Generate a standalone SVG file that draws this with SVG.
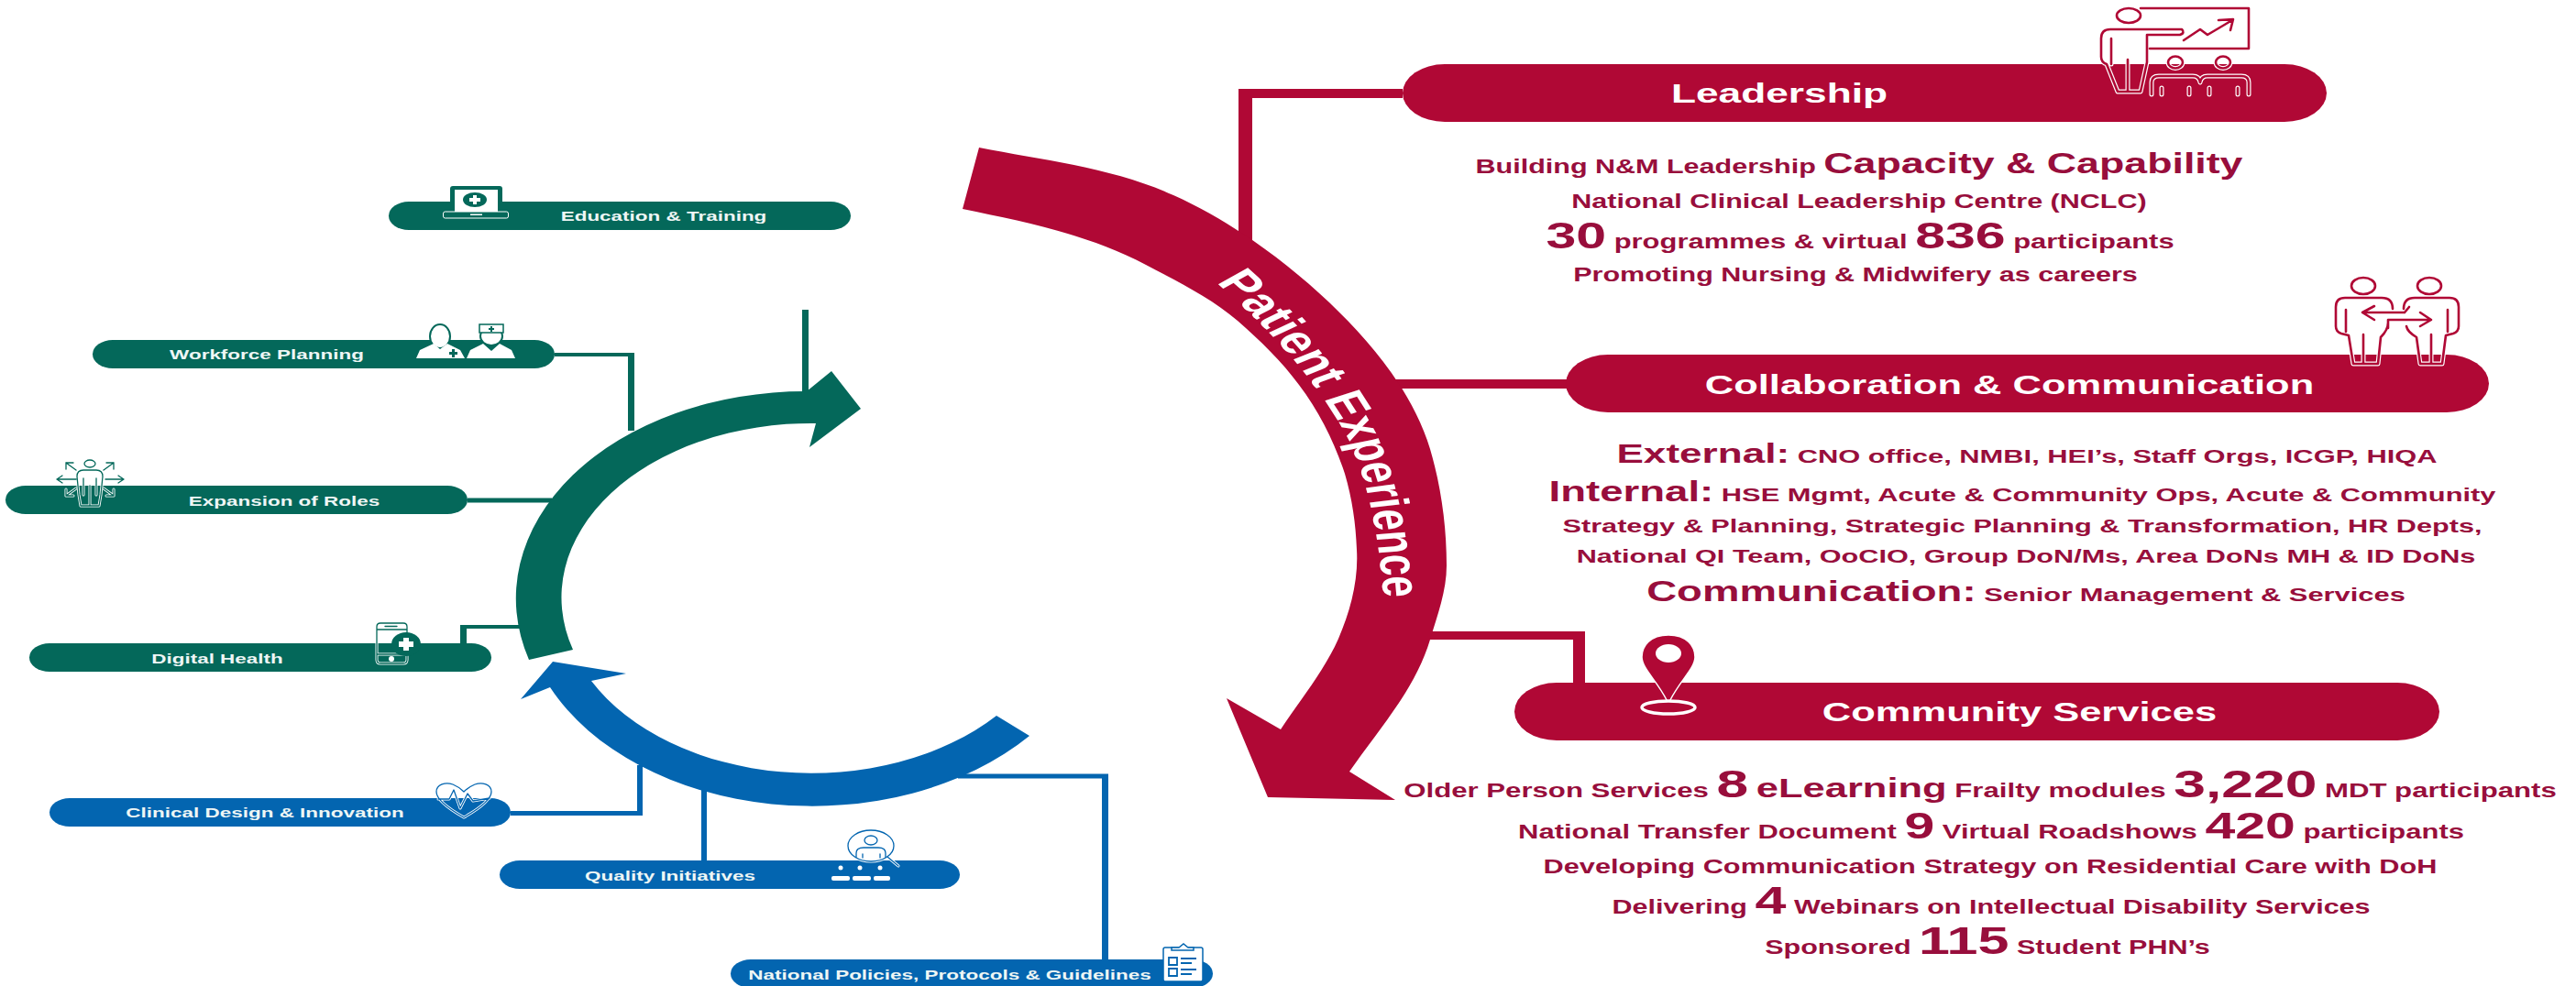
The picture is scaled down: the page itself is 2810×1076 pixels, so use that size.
<svg xmlns="http://www.w3.org/2000/svg" xmlns:xlink="http://www.w3.org/1999/xlink" width="2810" height="1076" viewBox="0 0 2810 1076">
<style>
text{font-family:"Liberation Sans",Arial,sans-serif;font-weight:700;text-anchor:middle}
.w{fill:#fff}
.rt{fill:#980E3C;font-size:21.5px}
.pr{font-size:30px}
.pl{font-size:15.5px;fill:#eef6f5}
.b21{font-size:21px}.b30{font-size:30px}.b31{font-size:31px}.b315{font-size:31.5px}.b41{font-size:41px}.b43{font-size:43px}
.r{fill:#B00835}.g{fill:#04685A}.b{fill:#0365B0}
.halo{fill:none;stroke:#fff;stroke-width:5;stroke-linecap:round;stroke-linejoin:round}
.halot{fill:none;stroke:#fff;stroke-width:3;stroke-linecap:round;stroke-linejoin:round}
.cr{fill:none;stroke:#B00835;stroke-width:2.600;stroke-linecap:round;stroke-linejoin:round}
.cg{fill:none;stroke:#04685A;stroke-width:1.300;stroke-linecap:round;stroke-linejoin:round}
.cb{fill:none;stroke:#0365B0;stroke-width:1.300;stroke-linecap:round;stroke-linejoin:round}
</style>
<defs>
<path id="icoLead" d="M2380,32 L2302,32 Q2292,32 2292,42 L2292,62 Q2292,68 2298,70 L2310,100 L2335,100 L2342,68 L2342,38 L2378,38 Q2384,36 2380,32 Z M2303,42 L2303,70 M2321,65 L2321,100 M2335,9 L2453,9 L2453,53 L2345,53 M2382,44 L2400,32 L2408,38 L2435,22 M2420,22 L2436,21 L2433,33 M2309,17 a13,8 0 1 0 26,0 a13,8 0 1 0 -26,0 M2365,68 a8,6.500 0 1 0 16,0 a8,6.500 0 1 0 -16,0 M2417,68 a8,6.500 0 1 0 16,0 a8,6.500 0 1 0 -16,0 M2347,103 L2347,90 Q2347,83 2355,83 L2392,83 Q2399,83 2400,90 Q2401,83 2408,83 L2445,83 Q2453,83 2453,90 L2453,103 M2358,96 V103 M2388,96 V103 M2410,96 V103 M2441,96 V103"/>
<path id="icoCollab" d="M2565,312 a13,9 0 1 0 26,0 a13,9 0 1 0 -26,0 M2637,312 a13,9 0 1 0 26,0 a13,9 0 1 0 -26,0 M2610,337 Q2610,325 2598,325 L2558,325 Q2548,325 2548,335 L2548,356 Q2548,362 2554,364 L2562,366 L2567,397 L2594,397 L2597,368 Q2605,360 2605,352 M2559,338 V362 M2578,365 V397 M2622,337 Q2622,325 2634,325 L2672,325 Q2682,325 2682,335 L2682,356 Q2682,362 2676,364 L2668,366 L2664,397 L2640,397 L2636,368 Q2626,362 2625,356 M2670,338 V362 M2652,365 V397 M2623,341 L2577,341 M2590,334 L2577,341 L2590,349 M2605,358 L2605,349 L2652,349 M2640,341 L2652,349 L2640,356 M2623,341 L2628,335"/>
<path id="icoRoles" d="M92,506 a6,4 0 1 0 12,0 a6,4 0 1 0 -12,0 M91,513 L105,513 Q112,513 112,520 L110,540 L108,552 L88,552 L86,540 L84,520 Q84,513 91,513 Z M98,530 V552 M91,522 V540 M105,522 V540 M83,523 H62 M68,519 L62,523 L68,527 M115,523 H135 M129,519 L135,523 L129,527 M83,513 L72,505 M72,512 L72,505 L80,505 M113,513 L124,505 M116,505 L124,505 L124,512 M83,533 L72,541 M72,534 L72,541 L80,541 M113,533 L124,541 M116,541 L124,541 L124,534"/>
<path id="icoPhone" d="M415,680 H440 Q444,680 444,684 V720 Q444,724 440,724 H415 Q411,724 411,720 V684 Q411,680 415,680 Z M411,687 H444 M411,714 H444 M420,683.500 H433"/>
<path id="icoHeart" d="M506,892 C492,884 476,873 476,864 C476,856 486,853 494,856 C499,858 503,861 506,864 C509,861 513,858 518,856 C526,853 536,856 536,864 C536,873 520,884 506,892 Z M478,872 L490,872 L495,862 L502,882 L510,866 L516,874 L534,871"/>
<path id="icoMag" d="M925,923 a25,17 0 1 0 50,0 a25,17 0 1 0 -50,0 M968,935 L980,945 M943,917 a7,5 0 1 0 14,0 a7,5 0 1 0 -14,0 M934,936 V931 Q934,925 942,925 H958 Q966,925 966,931 V936 M941,932 V936 M960,932 V936"/>
</defs>

<g id="connectors">
<path class="g" d="M605,385 H692 V470 H685 V389 H605 Z"/>
<rect class="g" x="875" y="338" width="7" height="92"/>
<rect class="g" x="510" y="543.500" width="92" height="5"/>
<path class="g" d="M502,703 V682 H570 V686 H509 V703 Z"/>
<path class="b" d="M557,885 H695 V835 H701 V890 H557 Z"/>
<rect class="b" x="765" y="858" width="6" height="82"/>
<path class="b" d="M1045,844.500 H1209 V1048 H1202 V849.500 H1045 Z"/>
<path class="r" d="M1530,97 H1351 V262 H1366 V107 H1530 Z"/>
<rect class="r" x="1515" y="414" width="195" height="10"/>
<path class="r" d="M1560,689 H1729 V746 H1716 V698 H1560 Z"/>
</g>

<g id="arc-patient-experience">
<path class="r" d="M1068,161 C1139,175 1214,183 1280,213 C1342,241 1400,283 1450,330 C1497,375 1541,428 1560,490 C1572,531 1578,574 1578,617 C1578,645 1568,671 1560,698 C1544,752 1504,796 1472,842 L1522,873 L1383,870 L1338,762 L1397,796 C1418,764 1444,733 1460,697 C1473,667 1482,633 1480,600 C1479,572 1475,544 1467,517 C1456,483 1439,449 1417,420 C1398,394 1374,371 1350,350 C1321,325 1284,307 1250,289 C1188,256 1118,242 1050,228 Z"/>
<g transform="scale(1.42,1)">
<path id="pxPath" d="M934,308 Q1005,395 1037,483 Q1060,555 1064,680" fill="none"/>
<text class="w" style="font-size:42px;text-anchor:start"><textPath href="#pxPath" xlink:href="#pxPath">Patient Experience</textPath></text>
</g>
</g>
<path id="arc-green" class="g" d="M577,720 A316,226 0 0 1 880,427 L907,405 L939,446 L883,488 L890,462 A272,190 0 0 0 625,709 Z"/>
<path id="arc-blue" class="b" d="M1087,781 L1123,803 A316,226 0 0 1 600,750 L568,763 L603,722 L683,735 L645,743 A272,190 0 0 0 1087,781 Z"/>

<g id="node-education">
<rect class="g" x="424" y="220" width="504" height="31" rx="22" ry="15.500"/>
<rect class="g" x="491" y="203" width="57" height="32" rx="3"/>
<rect class="w" x="496" y="207" width="47" height="24"/>
<ellipse class="g" cx="518" cy="218" rx="13" ry="8"/>
<path class="w" d="M516,213 h4 v3 h4 v4 h-4 v3 h-4 v-3 h-4 v-4 h4 z"/>
<rect x="483.500" y="231" width="71" height="7" rx="2" fill="#04685A" stroke="#fff" stroke-width="1"/>
<rect class="w" x="513" y="233.500" width="13" height="1.500"/>
<text class="pl" transform="translate(724,241) scale(1.45,1)">Education &amp; Training</text>
</g>
<g id="node-workforce">
<rect class="g" x="101" y="371" width="504" height="31" rx="22" ry="15.500"/>
<ellipse cx="480" cy="367" rx="11" ry="13" fill="#fff" stroke="#04685A" stroke-width="2"/>
<path class="w" d="M454,391 L458,382 L473,375 L480,381 L488,375 L502,382 L507,391 Z"/>
<path class="g" d="M493,381 h3 v3 h3 v3 h-3 v3 h-3 v-3 h-3 v-3 h3 z"/>
<ellipse cx="536" cy="367" rx="12" ry="10" fill="#fff" stroke="#04685A" stroke-width="2"/>
<rect x="523" y="354" width="26" height="9" fill="#fff" stroke="#04685A" stroke-width="1.500"/>
<path class="g" d="M535,356 h2 v2 h2 v2 h-2 v2 h-2 v-2 h-2 v-2 h2 z"/>
<path class="w" d="M509,391 L513,382 L527,375 L536,383 L545,375 L558,382 L562,391 Z"/>
<text class="pl" transform="translate(291,392) scale(1.45,1)">Workforce Planning</text>
</g>
<g id="node-roles">
<rect class="g" x="6" y="530" width="504" height="31" rx="22" ry="15.500"/>
<use href="#icoRoles" xlink:href="#icoRoles" class="halot"/><use href="#icoRoles" xlink:href="#icoRoles" class="cg"/>
<text class="pl" transform="translate(310,552) scale(1.45,1)">Expansion of Roles</text>
</g>
<g id="node-digital">
<rect class="g" x="32" y="702" width="504" height="31" rx="22" ry="15.500"/>
<use href="#icoPhone" xlink:href="#icoPhone" class="halot"/><use href="#icoPhone" xlink:href="#icoPhone" class="cg"/>
<circle class="w" cx="427" cy="719" r="3"/>
<ellipse class="g" cx="443" cy="703" rx="16" ry="13"/>
<path class="w" d="M440,696 h6 v4 h5 v6 h-5 v4 h-6 v-4 h-5 v-6 h5 z"/>
<text class="pl" transform="translate(237,724) scale(1.45,1)">Digital Health</text>
</g>
<g id="node-clinical">
<rect class="b" x="54" y="871" width="503" height="31" rx="22" ry="15.500"/>
<use href="#icoHeart" xlink:href="#icoHeart" class="halot"/><use href="#icoHeart" xlink:href="#icoHeart" class="cb"/>
<text class="pl" transform="translate(289,892) scale(1.45,1)">Clinical Design &amp; Innovation</text>
</g>
<g id="node-quality">
<rect class="b" x="545" y="939" width="502" height="31" rx="22" ry="15.500"/>
<use href="#icoMag" xlink:href="#icoMag" class="halot"/><use href="#icoMag" xlink:href="#icoMag" class="cb"/>
<circle class="w" cx="917" cy="947" r="2.500"/><circle class="w" cx="938" cy="947" r="2.500"/><circle class="w" cx="960" cy="947" r="2.500"/>
<rect class="w" x="907" y="956" width="20" height="5" rx="2"/><rect class="w" x="930" y="956" width="20" height="5" rx="2"/><rect class="w" x="953" y="956" width="18" height="5" rx="2"/>
<text class="pl" transform="translate(731,961) scale(1.45,1)">Quality Initiatives</text>
</g>
<g id="node-policies">
<rect class="b" x="797" y="1047" width="526" height="31" rx="22" ry="15.500"/>
<rect x="1269" y="1034" width="43" height="37" rx="2" fill="#fff" stroke="#0365B0" stroke-width="1.500"/>
<path d="M1278,1037 V1034 H1286 L1291,1030 L1296,1034 H1302 V1037 Z" fill="#fff" stroke="#0365B0" stroke-width="1.500"/>
<path d="M1275,1045 h9 v8 h-9 z M1275,1057 h9 v8 h-9 z M1288,1046 h17 M1288,1051 h12 M1288,1058 h17 M1288,1063 h12" fill="none" stroke="#0365B0" stroke-width="1.800"/>
<text class="pl" transform="translate(1036,1069) scale(1.45,1)">National Policies, Protocols &amp; Guidelines</text>
</g>

<g id="node-leadership">
<rect class="r" x="1530" y="70" width="1008" height="63" rx="46" ry="31.500"/>
<use href="#icoLead" xlink:href="#icoLead" class="halo"/><use href="#icoLead" xlink:href="#icoLead" class="cr"/>
<text class="w pr" transform="translate(1941,112) scale(1.475,1)">Leadership</text>
<text class="rt" transform="translate(2028,189) scale(1.42,1)">Building N&amp;M Leadership <tspan class="b315">Capacity &amp; Capability</tspan></text>
<text class="rt" transform="translate(2028,227) scale(1.42,1)">National Clinical Leadership Centre (NCLC)</text>
<text class="rt" transform="translate(2029,271) scale(1.44,1)"><tspan class="b41">30</tspan> programmes &amp; virtual <tspan class="b41">836</tspan> participants</text>
<text class="rt" transform="translate(2024,307) scale(1.42,1)">Promoting Nursing &amp; Midwifery as careers</text>
</g>
<g id="node-collaboration">
<rect class="r" x="1708" y="387" width="1007" height="63" rx="46" ry="31.500"/>
<use href="#icoCollab" xlink:href="#icoCollab" class="halo"/><use href="#icoCollab" xlink:href="#icoCollab" class="cr"/>
<text class="w pr" transform="translate(2192,430) scale(1.45,1)">Collaboration &amp; Communication</text>
<text class="rt b21" transform="translate(2211,505) scale(1.47,1)"><tspan class="b30">External:</tspan> CNO office, NMBI, HEI’s, Staff Orgs, ICGP, HIQA</text>
<text class="rt b21" transform="translate(2206,547) scale(1.47,1)"><tspan class="b31">Internal:</tspan> HSE Mgmt, Acute &amp; Community Ops, Acute &amp; Community</text>
<text class="rt b21" transform="translate(2206,581) scale(1.46,1)">Strategy &amp; Planning, Strategic Planning &amp; Transformation, HR Depts,</text>
<text class="rt b21" transform="translate(2210,614) scale(1.46,1)">National QI Team, OoCIO, Group DoN/Ms, Area DoNs MH &amp; ID DoNs</text>
<text class="rt b21" transform="translate(2210,656) scale(1.47,1)"><tspan class="b31">Communication:</tspan> Senior Management &amp; Services</text>
</g>
<g id="node-community">
<rect class="r" x="1652" y="745" width="1009" height="63" rx="46" ry="31.500"/>
<path class="r" d="M1820,693 C1840,693 1849,705 1849,717 C1849,730 1830,745 1820,768 C1810,745 1791,730 1791,717 C1791,705 1800,693 1820,693 Z" stroke="#fff" stroke-width="1.500"/>
<ellipse class="w" cx="1820" cy="713" rx="14" ry="10"/>
<ellipse cx="1820" cy="772" rx="29" ry="7" fill="#B00835" stroke="#fff" stroke-width="3.500"/>
<text class="w pr" transform="translate(2203,787) scale(1.45,1)">Community Services</text>
<text class="rt" transform="translate(2160,870) scale(1.45,1)">Older Person Services <tspan class="b43">8</tspan> <tspan class="b30">eLearning</tspan> Frailty modules <tspan class="b43">3,220</tspan> MDT participants</text>
<text class="rt" transform="translate(2172,915) scale(1.44,1)">National Transfer Document <tspan class="b41">9</tspan> Virtual Roadshows <tspan class="b41">420</tspan> participants</text>
<text class="rt" transform="translate(2171,953) scale(1.43,1)">Developing Communication Strategy on Residential Care with DoH</text>
<text class="rt" transform="translate(2172,997) scale(1.42,1)">Delivering <tspan class="b43">4</tspan> Webinars on Intellectual Disability Services</text>
<text class="rt" transform="translate(2168,1041) scale(1.42,1)">Sponsored <tspan class="b43">115</tspan> Student PHN’s</text>
</g>
</svg>
